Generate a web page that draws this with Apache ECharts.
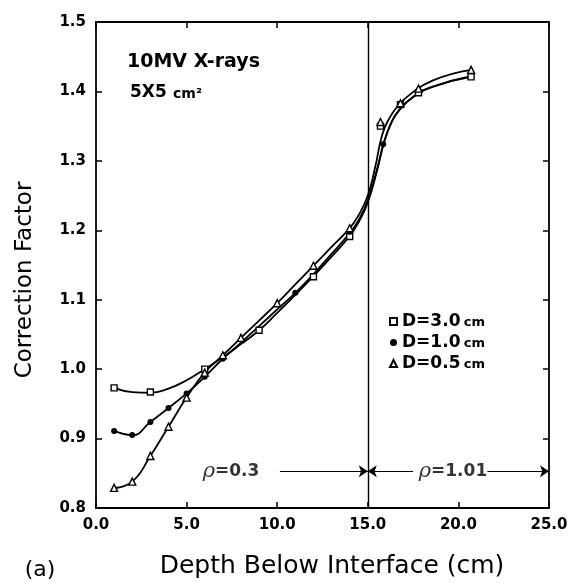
<!DOCTYPE html>
<html><head><meta charset="utf-8">
<script src="https://cdn.jsdelivr.net/npm/echarts@6/dist/echarts.min.js"></script>
<style>html,body{margin:0;padding:0;background:#fff}#c{width:571px;height:583px}</style>
</head><body><div id="c"></div>
<script>
// ---- data ----
const xMin = 0, xMax = 25, xStep = 5;
const yMin = 0.8, yMax = 1.5, yStep = 0.1;
const seriesNames = ['D=3.0 cm', 'D=1.0 cm', 'D=0.5 cm'];
// measured points (markers)
const depthD30 = [1, 3, 6, 9, 12, 14, 15.7, 16.8, 17.8, 20.7];
const cfD30    = [0.973, 0.967, 1.000, 1.056, 1.133, 1.191, 1.350, 1.381, 1.398, 1.421];
const depthD10 = [1, 2, 3, 4, 5, 6, 7, 11, 14, 15.85];
const cfD10    = [0.911, 0.905, 0.924, 0.944, 0.965, 0.989, 1.015, 1.110, 1.198, 1.324];
const depthD05 = [1, 2, 3, 4, 5, 6, 7, 8, 10, 12, 14, 15.7, 16.8, 17.8, 20.7];
const cfD05    = [0.829, 0.838, 0.875, 0.917, 0.959, 0.995, 1.020, 1.045, 1.095, 1.149, 1.203, 1.356, 1.383, 1.404, 1.431];
// hand-drawn fitted curves
const curveD30x = [1, 2, 3, 4, 5, 6, 7, 8, 9, 10, 11, 12, 13, 14, 14.5, 15, 15.5, 15.9, 16.3, 16.7, 17.5, 18.6, 20.7];
const curveD30y = [0.973, 0.967, 0.966, 0.972, 0.984, 1.000, 1.017, 1.036, 1.056, 1.081, 1.107, 1.134, 1.162, 1.192, 1.212, 1.240, 1.285, 1.327, 1.355, 1.372, 1.392, 1.407, 1.421];
const curveD10x = [1, 2, 3, 4, 5, 6, 7, 8, 9, 10, 11, 12, 13, 14, 14.5, 15, 15.5, 15.9, 16.3, 16.7, 17.5, 18.6, 20.7];
const curveD10y = [0.911, 0.905, 0.924, 0.944, 0.965, 0.989, 1.015, 1.038, 1.062, 1.086, 1.110, 1.137, 1.166, 1.196, 1.215, 1.243, 1.287, 1.327, 1.355, 1.372, 1.392, 1.407, 1.422];
const curveD05x = [1, 2, 3, 4, 5, 6, 7, 8, 9, 10, 11, 12, 13, 14, 14.5, 15, 15.4, 15.8, 16.2, 16.6, 17.3, 18.6, 20.7];
const curveD05y = [0.829, 0.838, 0.875, 0.917, 0.959, 0.995, 1.020, 1.045, 1.070, 1.095, 1.122, 1.149, 1.176, 1.203, 1.222, 1.250, 1.290, 1.338, 1.362, 1.377, 1.395, 1.416, 1.431];
const interfaceDepth = 15;
const rhoLabels = [ { x: 7.45, y: 0.853, text: '=0.3' }, { x: 19.7, y: 0.853, text: '=1.01' } ];
const rhoArrows = [ [10.15, 15, 0.853], [17.5, 15, 0.853], [21.6, 25, 0.853] ];

// ---- chart ----
const chart = echarts.init(document.getElementById('c'), null, { renderer: 'canvas' });
const FONT = '"DejaVu Sans", "Liberation Sans", sans-serif';
const axisLineStyle = { color: '#000', width: 1.8 };
const tickStyle = { color: '#000', width: 1.5 };
function pairs(xs, ys) { return xs.map((x, i) => [x, ys[i]]); }
function curve(xs, ys) {
  return { type: 'line', smooth: 0.5, data: pairs(xs, ys), symbol: 'none', silent: true,
           lineStyle: { color: '#000', width: 1.8 }, z: 2 };
}

const option = {
  animation: false,
  backgroundColor: '#fff',
  grid: { left: 96, right: 22, top: 22, bottom: 75, outerBoundsMode: 'none' },
  xAxis: [
    { type: 'value', min: xMin, max: xMax, interval: xStep, position: 'bottom',
      axisLine: { show: true, onZero: false, lineStyle: axisLineStyle },
      axisTick: { show: true, inside: true, length: 6, lineStyle: tickStyle },
      splitLine: { show: false },
      axisLabel: { formatter: v => v.toFixed(1), color: '#000', fontFamily: FONT, fontWeight: 'bold', fontSize: 15, margin: 10, showMaxLabel: true, showMinLabel: true } },
    { type: 'value', min: xMin, max: xMax, interval: xStep, position: 'top',
      axisLine: { show: true, onZero: false, lineStyle: axisLineStyle },
      axisTick: { show: true, inside: true, length: 6, lineStyle: tickStyle },
      splitLine: { show: false }, axisLabel: { show: false } }
  ],
  yAxis: [
    { type: 'value', min: yMin, max: yMax, interval: yStep, position: 'left',
      axisLine: { show: true, onZero: false, lineStyle: axisLineStyle },
      axisTick: { show: true, inside: true, length: 6, lineStyle: tickStyle },
      splitLine: { show: false },
      axisLabel: { formatter: v => v.toFixed(1), color: '#000', fontFamily: FONT, fontWeight: 'bold', fontSize: 15, margin: 10 } },
    { type: 'value', min: yMin, max: yMax, interval: yStep, position: 'right',
      axisLine: { show: true, onZero: false, lineStyle: axisLineStyle },
      axisTick: { show: true, inside: true, length: 6, lineStyle: tickStyle },
      splitLine: { show: false }, axisLabel: { show: false } }
  ],
  legend: {
    orient: 'vertical', left: 384, top: 308, itemWidth: 7, itemHeight: 7, itemGap: 4,
    data: [ { name: seriesNames[0], icon: 'rect' }, { name: seriesNames[1], icon: 'circle' }, { name: seriesNames[2], icon: 'triangle' } ],
    formatter: n => '{a|' + n.replace(' cm', '') + '} {b|cm}',
    textStyle: { rich: {
      a: { fontFamily: FONT, fontWeight: 'bold', fontSize: 17, color: '#000' },
      b: { fontFamily: FONT, fontWeight: 'bold', fontSize: 13, color: '#000', padding: [3, 0, 0, 0] } } }
  },
  graphic: [
    { type: 'text', left: 127, top: 53, style: { text: '10MV X-rays', font: 'bold 19px ' + FONT, fill: '#000' } },
    { type: 'text', left: 130, top: 84, style: { text: '5X5', font: 'bold 17px ' + FONT, fill: '#000' } },
    { type: 'text', left: 173, top: 87, style: { text: 'cm²', font: 'bold 14px ' + FONT, fill: '#000' } },
    { type: 'text', x: 25, y: 280, rotation: Math.PI / 2, style: { text: 'Correction Factor', font: '23px ' + FONT, fill: '#000', textAlign: 'center', textVerticalAlign: 'middle' } },
    { type: 'text', x: 332, y: 566, style: { text: 'Depth Below Interface (cm)', font: '25px ' + FONT, fill: '#000', textAlign: 'center', textVerticalAlign: 'middle' } },
    { type: 'text', x: 40, y: 570, style: { text: '(a)', font: '22px ' + FONT, fill: '#000', textAlign: 'center', textVerticalAlign: 'middle' } }
  ],
  series: [
    Object.assign(curve(curveD30x, curveD30y), { name: 'curve D=3.0',
      markLine: { silent: true, symbol: 'none', label: { show: false },
        lineStyle: { color: '#000', width: 1.4, type: 'solid' }, data: [ { xAxis: interfaceDepth } ] } }),
    Object.assign(curve(curveD10x, curveD10y), { name: 'curve D=1.0' }),
    Object.assign(curve(curveD05x, curveD05y), { name: 'curve D=0.5' }),
    { name: seriesNames[0], type: 'scatter', data: pairs(depthD30, cfD30), symbol: 'rect', symbolSize: 6, z: 4,
      itemStyle: { color: '#fff', borderColor: '#000', borderWidth: 1.4, opacity: 1 } },
    { name: seriesNames[1], type: 'scatter', data: pairs(depthD10, cfD10), symbol: 'circle', symbolSize: 6, z: 4,
      itemStyle: { color: '#000', borderColor: '#000', borderWidth: 0, opacity: 1 } },
    { name: seriesNames[2], type: 'scatter', data: pairs(depthD05, cfD05), symbol: 'triangle', symbolSize: 7, z: 4,
      itemStyle: { color: '#fff', borderColor: '#000', borderWidth: 1.4, opacity: 1 } },
    { name: 'rho', type: 'scatter', silent: true, symbolSize: 0,
      data: rhoLabels.map(r => ({ value: [r.x, r.y], txt: r.text })),
      label: { show: true, position: 'inside', color: '#000',
        formatter: p => '{r|ρ}{t|' + p.data.txt + '}',
        rich: { r: { fontFamily: '"DejaVu Serif", serif', fontStyle: 'italic', fontSize: 21, color: '#000' },
                t: { fontFamily: FONT, fontWeight: 'bold', fontSize: 17, color: '#000' } } },
      markLine: { silent: true, symbol: ['none', 'arrow'], symbolSize: 9, label: { show: false },
        lineStyle: { color: '#000', width: 1.2, type: 'solid' },
        data: rhoArrows.map(a => [ { coord: [a[0], a[2]] }, { coord: [a[1], a[2]] } ]) } }
  ]
};
chart.setOption(option);
</script>
</body></html>
